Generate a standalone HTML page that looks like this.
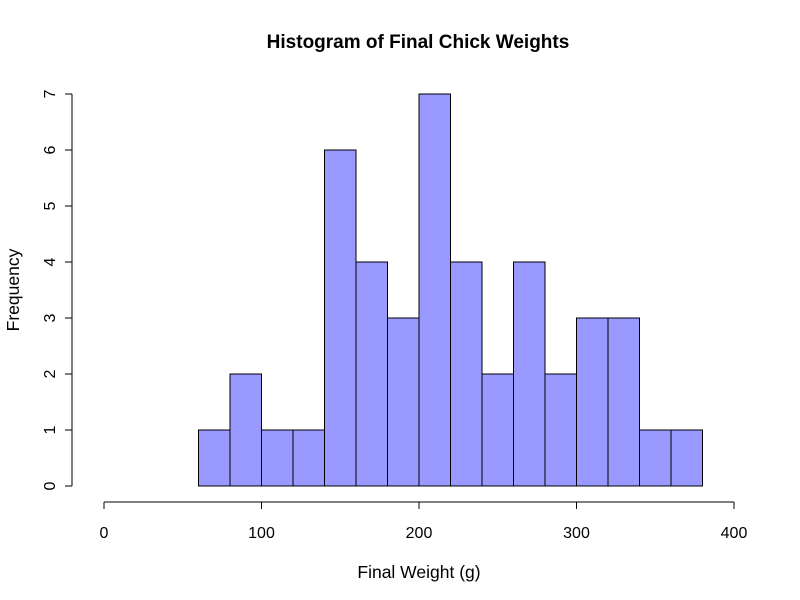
<!DOCTYPE html>
<html><head><meta charset="utf-8"><style>
body{margin:0;background:#fff}
svg{display:block;font-family:"Liberation Sans",Arial,sans-serif}
</style></head><body>
<svg id="chart" width="800" height="600">
<rect width="800" height="600" fill="#fff"/>
<text x="418" y="48" text-anchor="middle" font-size="19" font-weight="bold">Histogram of Final Chick Weights</text>
<text x="419" y="578" text-anchor="middle" font-size="17.5">Final Weight (g)</text>
<text transform="translate(19,290) rotate(-90)" text-anchor="middle" font-size="17.5">Frequency</text>
<g id="bars"></g>
<g id="xaxis"></g>
<g id="yaxis"></g>
</svg>
<script>
const binStarts=[60,80,100,120,140,160,180,200,220,240,260,280,300,320,340,360];
const binWidth=20;
const counts=[1,2,1,1,6,4,3,7,4,2,4,2,3,3,1,1];
const xTicks=[0,100,200,300,400];
const yTicks=[0,1,2,3,4,5,6,7];
const NS="http://www.w3.org/2000/svg";
const X=v=>104+v*630/400;
const Y=v=>486-v*56;
function mk(tag,attrs,parent){const e=document.createElementNS(NS,tag);for(const k in attrs)e.setAttribute(k,attrs[k]);parent.appendChild(e);return e;}
const bars=document.getElementById('bars');
binStarts.forEach((s,i)=>{
  const r=mk('rect',{x:X(s),y:Y(counts[i]),width:X(s+binWidth)-X(s),height:Y(0)-Y(counts[i]),fill:'#9999ff',stroke:'#000','stroke-width':1},bars);
  
  
});
const xa=document.getElementById('xaxis');
mk('line',{x1:X(xTicks[0]),x2:X(xTicks[xTicks.length-1]),y1:502,y2:502,stroke:'#000'},xa);
xTicks.forEach(t=>{
  mk('line',{x1:X(t),x2:X(t),y1:502,y2:509,stroke:'#000'},xa);
  const tx=mk('text',{x:X(t),y:538,'text-anchor':'middle','font-size':'16'},xa);
  tx.textContent=t;
  
  
});
const ya=document.getElementById('yaxis');
mk('line',{x1:72,x2:72,y1:Y(yTicks[0]),y2:Y(yTicks[yTicks.length-1]),stroke:'#000'},ya);
yTicks.forEach(t=>{
  mk('line',{x1:65,x2:72,y1:Y(t),y2:Y(t),stroke:'#000'},ya);
  const tx=mk('text',{transform:'translate(55,'+Y(t)+') rotate(-90)','text-anchor':'middle','font-size':'16'},ya);
  tx.textContent=t;
  
  
});
</script>
</body></html>
